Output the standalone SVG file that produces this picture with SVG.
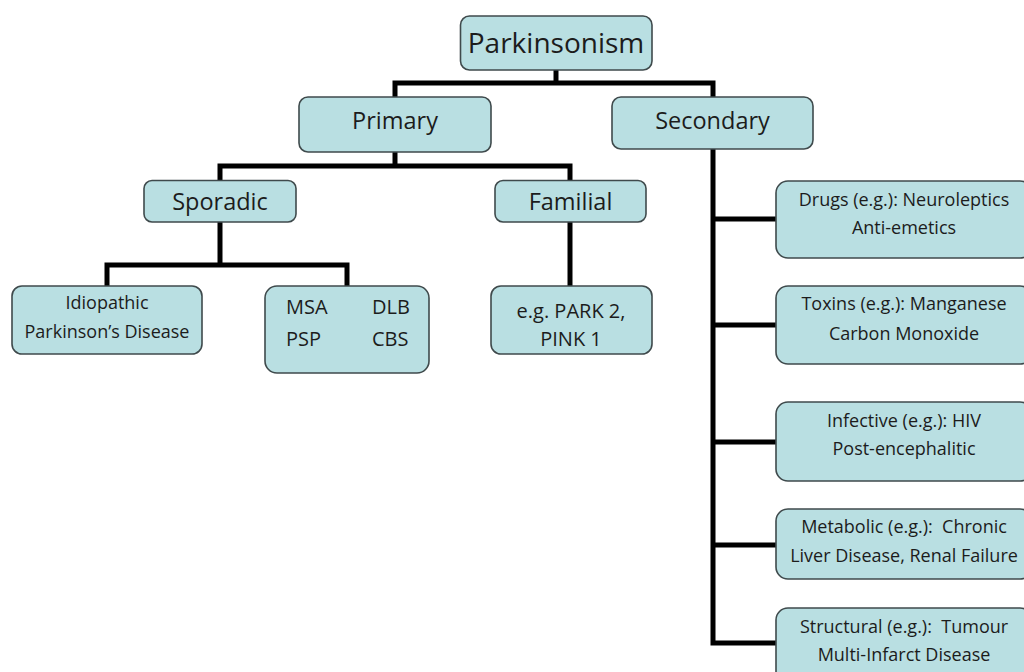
<svg xmlns="http://www.w3.org/2000/svg" width="1024" height="672" viewBox="0 0 1024 672">
<style>
.box{fill:#b9dfe2;stroke:#3f4a4c;stroke-width:1.6}
text{font-family:"Open Sans","Noto Sans",sans-serif;fill:#1c1c1c;text-anchor:middle}
.t1{font-size:28px}
.t2{font-size:23.5px}
.t3{font-size:18px}
.t4{font-size:20px;text-anchor:start}
.t5{font-size:20px}
.conn{fill:none;stroke:#000;stroke-width:5;stroke-linejoin:miter;stroke-linecap:butt}
</style>
<rect width="1024" height="672" fill="#fff"/>
<g id="connectors">
<path class="conn" d="M556,70 V83"/>
<path class="conn" d="M395,97 V83 H713 V97"/>
<path class="conn" d="M395,152 V166"/>
<path class="conn" d="M220,180 V166 H570 V180"/>
<path class="conn" d="M220,222 V265"/>
<path class="conn" d="M107,286 V265 H347 V286"/>
<path class="conn" d="M570,222 V286"/>
<path class="conn" d="M713,149 V643 H776"/>
<path class="conn" d="M713,219 H776 M713,325 H776 M713,442 H776 M713,545 H776"/>
</g>
<g id="parkinsonism">
<rect class="box" x="460.5" y="16" width="191.5" height="54" rx="9"/>
<text class="t1" x="556" y="53">Parkinsonism</text>
</g>
<g id="primary">
<rect class="box" x="299" y="97" width="192" height="55" rx="9"/>
<text class="t2" x="395" y="129">Primary</text>
</g>
<g id="secondary">
<rect class="box" x="612" y="97" width="201" height="52" rx="9"/>
<text class="t2" x="712.5" y="129">Secondary</text>
</g>
<g id="sporadic">
<rect class="box" x="144" y="180.5" width="152" height="41.5" rx="8"/>
<text class="t2" x="220" y="210">Sporadic</text>
</g>
<g id="familial">
<rect class="box" x="495" y="180.5" width="151" height="41.5" rx="8"/>
<text class="t2" x="570.5" y="210">Familial</text>
</g>
<g id="idiopathic">
<rect class="box" x="12" y="286" width="190" height="68" rx="10"/>
<text class="t3" x="107" y="309">Idiopathic</text>
<text class="t3" x="107" y="338">Parkinson’s Disease</text>
</g>
<g id="msa">
<rect class="box" x="265" y="286" width="164" height="87" rx="12"/>
<text class="t4" x="286" y="314">MSA</text>
<text class="t4" x="372" y="314">DLB</text>
<text class="t4" x="286" y="346">PSP</text>
<text class="t4" x="372" y="346">CBS</text>
</g>
<g id="park">
<rect class="box" x="491" y="286" width="161" height="68" rx="10"/>
<text class="t5" x="571" y="318">e.g. PARK 2,</text>
<text class="t5" x="571" y="346">PINK 1</text>
</g>
<g id="drugs">
<rect class="box" x="776" y="181" width="256" height="77" rx="12"/>
<text class="t3" x="904" y="206">Drugs (e.g.): Neuroleptics</text>
<text class="t3" x="904" y="234">Anti-emetics</text>
</g>
<g id="toxins">
<rect class="box" x="776" y="286" width="256" height="78" rx="12"/>
<text class="t3" x="904" y="310">Toxins (e.g.): Manganese</text>
<text class="t3" x="904" y="340">Carbon Monoxide</text>
</g>
<g id="infective">
<rect class="box" x="776" y="402" width="256" height="79" rx="12"/>
<text class="t3" x="904" y="427">Infective (e.g.): HIV</text>
<text class="t3" x="904" y="455">Post-encephalitic</text>
</g>
<g id="metabolic">
<rect class="box" x="776" y="509" width="256" height="70" rx="12"/>
<text class="t3" x="904" y="533" xml:space="preserve">Metabolic (e.g.):  Chronic</text>
<text class="t3" x="904" y="562">Liver Disease, Renal Failure</text>
</g>
<g id="structural">
<rect class="box" x="776" y="608" width="256" height="76" rx="12"/>
<text class="t3" x="904" y="633" xml:space="preserve">Structural (e.g.):  Tumour</text>
<text class="t3" x="904" y="661">Multi-Infarct Disease</text>
</g>
</svg>
